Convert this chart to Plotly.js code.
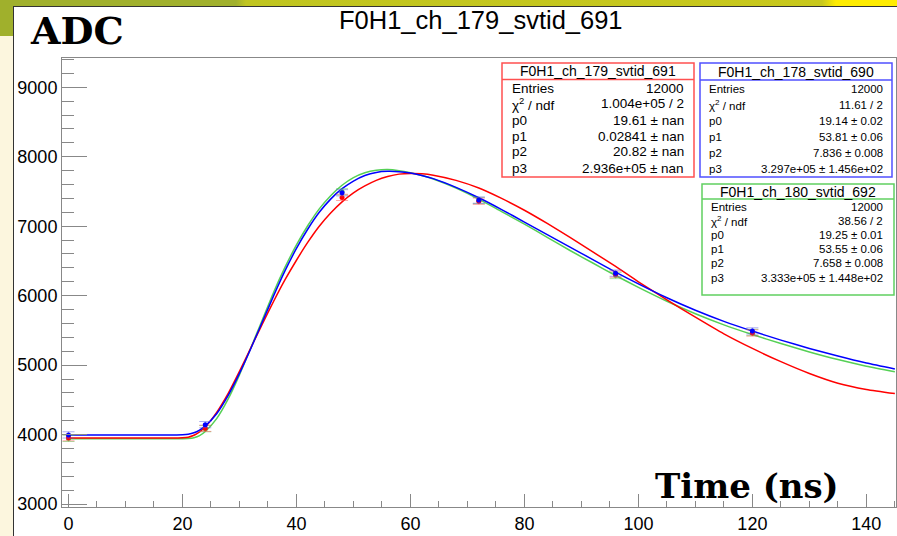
<!DOCTYPE html>
<html><head><meta charset="utf-8">
<script src="https://cdn.plot.ly/plotly-3.0.1.min.js"></script>
<style>
html,body{margin:0;padding:0;width:897px;height:536px;overflow:hidden;background:#fcf6de;}
#band{position:absolute;left:0;top:0;width:897px;height:6px;background:linear-gradient(90deg,#a0b02c 0px,#a0b02c 236px,#c0c520 246px,#c8c81c 822px,#ffec00 836px,#ffec00 897px);}
#olive{position:absolute;left:0;top:0;width:14px;height:36px;background:#a0b02c;}
#frame{position:absolute;left:13px;top:6px;width:884px;height:530px;background:#fff;border-left:1.5px solid #333;border-top:1.5px solid #333;box-sizing:border-box;}
#plot{position:absolute;left:0;top:0;width:897px;height:536px;}
</style></head>
<body>
<div id="band"></div><div id="olive"></div><div id="frame"></div>
<div id="plot"></div>
<script>
// ---- data ----
const pointTimes = [0, 24, 48, 72, 96, 120];
const blueSamples  = [3995, 4143, 7481, 7376, 6324, 5492];
const redSamples   = [3955, 4090, 7415, 7360, 6310, 5463];
const greenSamples = [3945, 4085, 7495, 7370, 6290, 5470];
const sampleErr = [45, 45, 45, 45, 45, 45];

const fitTimes = [0, 10, 19, 20, 21, 22, 23, 24, 26, 28, 30, 32, 33, 34, 36, 38, 40, 42, 44, 46, 48, 50, 52, 54, 56, 58, 60, 62, 64, 68, 72, 76, 80, 84, 88, 92, 96, 100, 105, 110, 115, 120, 125, 130, 135, 140, 145];
const blueFit  = [3995, 3995, 3995, 3997, 4005, 4025, 4065, 4125, 4300, 4560, 4880, 5240, 5430, 5620, 6000, 6360, 6680, 6960, 7200, 7390, 7540, 7650, 7730, 7775, 7790, 7785, 7765, 7730, 7685, 7560, 7410, 7240, 7060, 6880, 6700, 6520, 6340, 6170, 5970, 5790, 5630, 5490, 5360, 5240, 5130, 5030, 4945];
const redFit   = [3952, 3952, 3952, 3953, 3962, 3990, 4040, 4110, 4320, 4590, 4910, 5250, 5420, 5590, 5920, 6230, 6510, 6770, 7000, 7190, 7350, 7480, 7580, 7660, 7715, 7750, 7760, 7755, 7735, 7660, 7550, 7400, 7230, 7040, 6840, 6630, 6420, 6200, 5940, 5690, 5450, 5240, 5050, 4880, 4740, 4650, 4590];
const greenFit = [3940, 3940, 3940, 3941, 3944, 3955, 3985, 4045, 4230, 4510, 4860, 5250, 5450, 5650, 6050, 6410, 6730, 7010, 7250, 7440, 7590, 7700, 7770, 7805, 7815, 7800, 7770, 7730, 7680, 7550, 7390, 7210, 7030, 6840, 6650, 6470, 6290, 6120, 5920, 5740, 5580, 5440, 5310, 5190, 5080, 4985, 4905];

const chartTitle = "F0H1_ch_179_svtid_691";
const xTitle = "Time (ns)";
const yTitle = "ADC";
const statRows = ["Entries", "χ<sup>2</sup> / ndf", "p0", "p1", "p2", "p3"];
const statRed   = {name:"F0H1_ch_179_svtid_691", vals:["12000","1.004e+05 / 2","19.61 ± nan","0.02841 ± nan","20.82 ± nan","2.936e+05 ± nan"]};
const statBlue  = {name:"F0H1_ch_178_svtid_690", vals:["12000","11.61 / 2","19.14 ± 0.02","53.81 ± 0.06","7.836 ± 0.008","3.297e+05 ± 1.456e+02"]};
const statGreen = {name:"F0H1_ch_180_svtid_692", vals:["12000","38.56 / 2","19.25 ± 0.01","53.55 ± 0.06","7.658 ± 0.008","3.333e+05 ± 1.448e+02"]};

// ---- layout helpers (pixels -> paper) ----
const W = 897, H = 536, ML = 62, MR = 1, MT = 58, MB = 29;
const PW = W - ML - MR, PH = H - MT - MB;
const px = x => (x - ML) / PW;
const py = y => (H - MB - y) / PH;

const RED = '#ff0000', BLUE = '#0000ff', GREEN = '#55d055';

function fitTrace(y, c){ return {x: fitTimes, y: y, mode:'lines', line:{color:c, width:1.5, shape:'spline', smoothing:0.6}, hoverinfo:'skip', showlegend:false}; }
function ptTrace(y, c, ec){ return {x: pointTimes, y: y, mode:'markers', marker:{color:c, size:5},
  error_y:{type:'data', array: sampleErr, visible:true, color:ec, thickness:1, width:6}, showlegend:false}; }

const data = [
  fitTrace(greenFit, GREEN), fitTrace(redFit, RED), fitTrace(blueFit, BLUE),
  ptTrace(greenSamples, GREEN, 'rgba(80,200,80,0.5)'),
  ptTrace(redSamples, RED, 'rgba(255,80,80,0.5)'),
  ptTrace(blueSamples, BLUE, 'rgba(90,90,230,0.5)')
];

const shapes = [], annotations = [];
const statFont = 'Liberation Sans, Arial, sans-serif';
function statBox(s, box, col){
  shapes.push({type:'rect', xref:'paper', yref:'paper', x0:px(box.l), x1:px(box.r), y0:py(box.b), y1:py(box.t),
    line:{color:col, width:1.5}, fillcolor:'#ffffff', layer:'above'});
  shapes.push({type:'line', xref:'paper', yref:'paper', x0:px(box.l), x1:px(box.r), y0:py(box.sep), y1:py(box.sep),
    line:{color:col, width:1.5}, layer:'above'});
  annotations.push({xref:'paper', yref:'paper', x:px((box.l+box.r)/2), y:py((box.t+box.sep)/2), text:s.name,
    showarrow:false, xanchor:'center', yanchor:'middle', font:{family:statFont, size:box.ts, color:'#000'}});
  statRows.forEach((r,i)=>{
    annotations.push({xref:'paper', yref:'paper', x:px(box.tl), y:py(box.rows[i]), text:r, showarrow:false,
      xanchor:'left', yanchor:'middle', font:{family:statFont, size:box.bs, color:'#000'}});
    annotations.push({xref:'paper', yref:'paper', x:px(box.tr), y:py(box.rows[i]), text:s.vals[i], showarrow:false,
      xanchor:'right', yanchor:'middle', font:{family:statFont, size:box.bs, color:'#000'}});
  });
}
statBox(statRed, {l:502, r:694, t:63, b:177, sep:79.5, rows:[88,104,120,136,152,168], ts:14, bs:13.5, tl:510, tr:686}, '#ff5050');
statBox(statBlue, {l:700, r:892, t:63, b:177, sep:80, rows:[89,105,121,137,153,169], ts:14, bs:11.5, tl:707, tr:885}, '#5050ff');
statBox(statGreen, {l:702, r:894, t:184, b:295, sep:199, rows:[206.5,220.7,235,249.3,263.3,277.5], ts:14, bs:11.5, tl:709, tr:885}, '#60d060');

annotations.push({xref:'paper', yref:'paper', x:px(481), y:py(20), text:chartTitle, showarrow:false,
  xanchor:'center', yanchor:'middle', font:{family:statFont, size:25.5, color:'#000'}});
annotations.push({xref:'paper', yref:'paper', x:px(28), y:py(31), text:'<b>'+yTitle+'</b>', showarrow:false,
  xanchor:'left', yanchor:'middle', font:{family:'DejaVu Serif, serif', size:38, color:'#000'}});
annotations.push({xref:'paper', yref:'paper', x:px(841), y:py(486), text:'<b>'+xTitle+'</b>', showarrow:false,
  xanchor:'right', yanchor:'middle', font:{family:'DejaVu Serif, serif', size:34, color:'#000'}});

const layout = {
  width: W, height: H,
  margin:{l:ML, r:MR, t:MT, b:MB, pad:0},
  paper_bgcolor:'rgba(0,0,0,0)', plot_bgcolor:'#ffffff',
  showlegend:false,
  xaxis:{range:[-1.14, 145.2], tickmode:'linear', tick0:0, dtick:20, ticks:'inside', ticklen:13, tickcolor:'#888', tickwidth:1,
    minor:{dtick:5, tick0:0, ticks:'inside', ticklen:6.5, tickcolor:'#888', tickwidth:1},
    showline:true, linecolor:'#888', linewidth:1, mirror:true, showgrid:false, zeroline:false,
    tickfont:{family:statFont, size:18, color:'#000'}},
  yaxis:{range:[2957, 9422], tickmode:'linear', tick0:3000, dtick:1000, ticks:'inside', ticklen:25, tickcolor:'#888', tickwidth:1,
    minor:{dtick:200, tick0:3000, ticks:'inside', ticklen:12, tickcolor:'#888', tickwidth:1},
    showline:true, linecolor:'#888', linewidth:1, mirror:true, showgrid:false, zeroline:false,
    tickfont:{family:statFont, size:18, color:'#000'}},
  shapes: shapes, annotations: annotations
};
Plotly.newPlot('plot', data, layout, {staticPlot:true, displayModeBar:false});
</script>
</body></html>
